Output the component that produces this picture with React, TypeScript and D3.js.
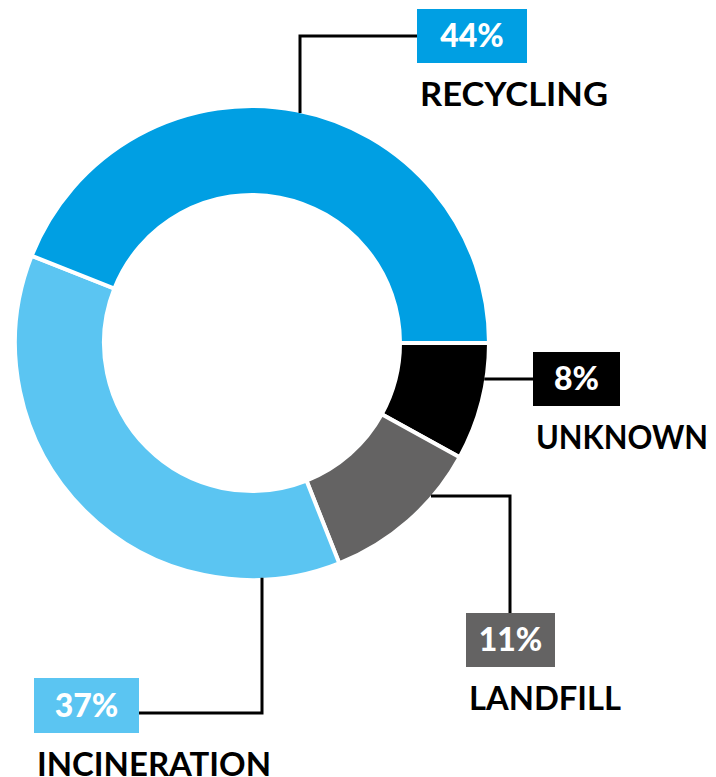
import React from "react";
import * as d3 from "d3";

const categories = ["UNKNOWN", "LANDFILL", "INCINERATION", "RECYCLING"];
const values = [8, 11, 37, 44];
const percentLabels = ["8%", "11%", "37%", "44%"];
const colors = ["#000000", "#646363", "#5BC5F2", "#009FE3"];

const W = 716;
const H = 777;
const cx = 252;
const cy = 343;
const rOuter = 237;
const rInner = 148;

// label layout (box position, label width)
const boxes = [
  { x: 533, y: 352, w: 87, h: 54, labelW: 172 },
  { x: 466, y: 613, w: 89, h: 54, labelW: 152 },
  { x: 34, y: 678, w: 105, h: 55, labelW: 234 },
  { x: 417, y: 9, w: 110, h: 54, labelW: 188 },
];

function outerY(x: number, sign: number) {
  return cy + sign * Math.sqrt(rOuter * rOuter - (x - cx) * (x - cx));
}
function outerX(y: number, sign: number) {
  return cx + sign * Math.sqrt(rOuter * rOuter - (y - cy) * (y - cy));
}

export default function App() {
  const pie = d3
    .pie<number>()
    .sort(null)
    .startAngle(Math.PI / 2)
    .endAngle(Math.PI / 2 + 2 * Math.PI);
  const arcs = pie(values);
  const arc = d3.arc<d3.PieArcDatum<number>>().innerRadius(rInner).outerRadius(rOuter);

  const connectors = [
    `M${outerX(379, 1) - 2},379 H${boxes[0].x}`,
    `M${outerX(496, 1) - 2},496 H510 V${boxes[1].y}`,
    `M262,${outerY(262, 1) - 2} V713 H${boxes[2].x + boxes[2].w}`,
    `M300,${outerY(300, -1) + 2} V36 H${boxes[3].x}`,
  ];

  return (
    <svg
      width={W}
      height={H}
      style={{ position: "absolute", left: 0, top: 0, display: "block", background: "#fff" }}
    >
      <g transform={`translate(${cx},${cy})`}>
        {arcs.map((a, i) => (
          <path key={i} d={arc(a) || ""} fill={colors[i]} stroke="#fff" strokeWidth={4} />
        ))}
      </g>
      {connectors.map((d, i) => (
        <path key={i} d={d} fill="none" stroke="#000" strokeWidth={3} />
      ))}
      {boxes.map((b, i) => (
        <g key={i}>
          <rect x={b.x} y={b.y} width={b.w} height={b.h} fill={colors[i]} />
          <text
            x={b.x + b.w / 2}
            y={b.y + b.h / 2 + 11}
            textAnchor="middle"
            fill="#fff"
            fontFamily="Lato, Inter, sans-serif"
            fontWeight={900}
            fontSize={32}
          >
            {percentLabels[i]}
          </text>
          <text
            x={b.x + 3}
            y={b.y + b.h + 43}
            fill="#000"
            fontFamily="Lato, Inter, sans-serif"
            fontWeight={700}
            fontSize={32}
            textLength={b.labelW}
            lengthAdjust="spacingAndGlyphs"
          >
            {categories[i]}
          </text>
        </g>
      ))}
    </svg>
  );
}
